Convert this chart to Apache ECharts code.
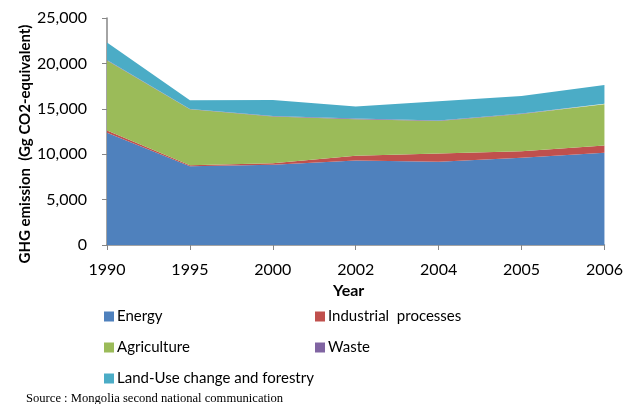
<!DOCTYPE html>
<html>
<head>
<meta charset="utf-8">
<script src="https://cdn.jsdelivr.net/npm/echarts@6/dist/echarts.min.js"></script>
<style>
  html, body { margin: 0; padding: 0; background: #fff; }
  #chart { width: 626px; height: 404px; }
</style>
</head>
<body>
<div id="chart"></div>
<script>
// GHG emissions by sector, Gg CO2-equivalent
const years = ['1990', '1995', '2000', '2002', '2004', '2005', '2006'];
const energy = [12370, 8680, 8830, 9300, 9160, 9600, 10160];
const industrial = [250, 110, 180, 520, 920, 730, 800];
const agriculture = [7700, 6150, 5150, 4040, 3570, 4090, 4530];
const waste = [60, 50, 50, 60, 60, 60, 70];
const lucf = [1920, 940, 1750, 1340, 2110, 1930, 2060];
const yTicks = { min: 0, max: 25000, interval: 5000 };

const seriesDefs = [
  { name: 'Energy', data: energy, color: '#4F81BD' },
  { name: 'Industrial  processes', data: industrial, color: '#C0504D' },
  { name: 'Agriculture', data: agriculture, color: '#9BBB59' },
  { name: 'Waste', data: waste, color: '#8064A2' },
  { name: 'Land-Use change and forestry', data: lucf, color: '#4BACC6' }
];

const font = 'Lato, "Open Sans", sans-serif';
const axisGray = '#868686';

const chart = echarts.init(document.getElementById('chart'), null, { renderer: 'canvas' });

const legendText = { fontFamily: font, fontSize: 15, color: '#000', lineHeight: 15, padding: [0, 0, 0, -2] };

chart.setOption({
  animation: false,
  backgroundColor: '#fff',
  grid: { left: 107, right: 19, top: 18, bottom: 159, containLabel: false },
  xAxis: {
    type: 'category',
    data: years,
    boundaryGap: false,
    name: 'Year',
    nameLocation: 'middle',
    nameGap: 37,
    nameTextStyle: { fontFamily: font, fontSize: 16, fontWeight: 'bold', color: '#000', padding: [0, 14, 0, 0] },
    axisLine: { lineStyle: { color: axisGray, width: 1.5 } },
    axisTick: { show: true, length: 5, alignWithLabel: true, lineStyle: { color: axisGray } },
    axisLabel: { fontFamily: font, fontSize: 16, color: '#000', margin: 17 },
    splitLine: { show: false }
  },
  yAxis: {
    type: 'value',
    min: yTicks.min,
    max: yTicks.max,
    interval: yTicks.interval,
    axisLine: { show: true, lineStyle: { color: axisGray, width: 1.5 } },
    axisTick: { show: true, length: 5, lineStyle: { color: axisGray } },
    axisLabel: { fontFamily: font, fontSize: 16, color: '#000', margin: 20 },
    splitLine: { show: false }
  },
  legend: [
    {
      orient: 'vertical',
      left: 104, top: 309,
      padding: 0,
      itemWidth: 10, itemHeight: 10, itemGap: 16,
      icon: 'rect',
      textStyle: legendText,
      data: ['Energy', 'Agriculture', 'Land-Use change and forestry']
    },
    {
      orient: 'vertical',
      left: 315, top: 309,
      padding: 0,
      itemWidth: 10, itemHeight: 10, itemGap: 16,
      icon: 'rect',
      textStyle: legendText,
      data: ['Industrial  processes', 'Waste']
    }
  ],
  graphic: [
    {
      type: 'text',
      x: 25, y: 144,
      rotation: Math.PI / 2,
      style: {
        text: 'GHG emission  (Gg CO2-equivalent)',
        fontFamily: font, fontSize: 15, fontWeight: 'bold', fill: '#000',
        textAlign: 'center', textVerticalAlign: 'middle'
      }
    },
    {
      type: 'text',
      x: 26, y: 399,
      style: {
        text: 'Source : Mongolia second national communication',
        fontFamily: '"Liberation Serif", "Times New Roman", serif', fontSize: 12.6, fill: '#000',
        textAlign: 'left', textVerticalAlign: 'middle'
      }
    }
  ],
  series: seriesDefs.map(s => ({
    name: s.name,
    type: 'line',
    stack: 'total',
    data: s.data,
    symbol: 'none',
    smooth: false,
    lineStyle: { width: 0 },
    areaStyle: { color: s.color, opacity: 1 },
    itemStyle: { color: s.color },
    emphasis: { disabled: true }
  }))
});
</script>
</body>
</html>
